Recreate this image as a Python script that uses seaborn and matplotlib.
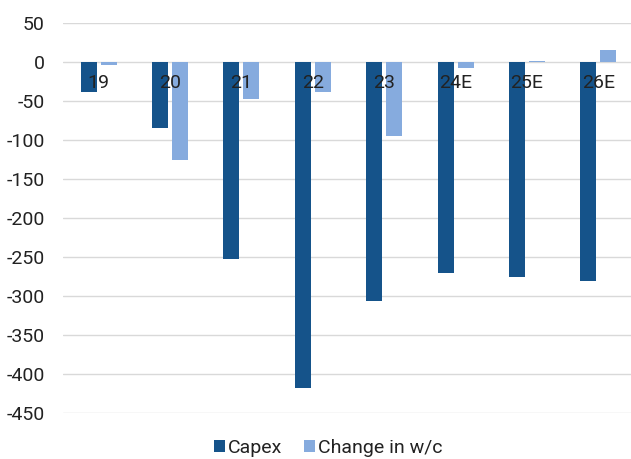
import matplotlib
matplotlib.use("Agg")
import matplotlib.pyplot as plt
import seaborn as sns
import pandas as pd

years = ["19", "20", "21", "22", "23", "24E", "25E", "26E"]
capex = [-39, -84, -252, -418, -306, -270, -276, -281]
change_wc = [-4, -125, -48, -38, -95, -8, 1, 16]
series_names = ["Capex", "Change in w/c"]
y_ticks = list(range(-450, 51, 50))

colors = ["#15538A", "#86ABDE"]

df = pd.DataFrame({
    "year": years * 2,
    "series": [series_names[0]] * len(years) + [series_names[1]] * len(years),
    "value": capex + change_wc,
})

sns.set_theme(style="white")
plt.rcParams["font.family"] = ["Roboto", "DejaVu Sans"]
text_color = "#222222"
font_size = 14

fig = plt.figure(figsize=(6.31, 4.59), dpi=100)
ax = fig.add_axes([63 / 631, 1 - 413 / 459, 571 / 631, 390 / 459])

sns.barplot(data=df, x="year", y="value", hue="series", order=years,
            hue_order=series_names, palette=colors, width=0.56, gap=0.2,
            linewidth=0, saturation=1, ax=ax, legend=True)

ax.set_ylim(-450, 50)
ax.set_xlim(-0.5, len(years) - 0.5)
ax.set_yticks(y_ticks)
ax.set_yticklabels([str(v) for v in y_ticks])
ax.yaxis.grid(True, color="#D9D9D9", linewidth=1)
ax.xaxis.grid(False)
ax.set_axisbelow(True)
# category labels sit on the zero line, drawn over the bars
ax.xaxis.set_zorder(3)

for s in ax.spines.values():
    s.set_visible(False)
ax.spines["bottom"].set_position(("data", 0))

ax.tick_params(axis="y", length=0, pad=13, labelsize=font_size, labelcolor=text_color)
ax.tick_params(axis="x", length=0, pad=8.5, labelsize=font_size, labelcolor=text_color)
ax.set_xlabel("")
ax.set_ylabel("")

handles, labels = ax.get_legend_handles_labels()
ax.get_legend().remove()
fig.legend(handles, labels, loc="center", bbox_to_anchor=(328 / 631, 1 - 448 / 459),
           ncol=2, frameon=False, fontsize=font_size, handlelength=0.58, handleheight=0.58,
           handletextpad=0.15, columnspacing=1.1, labelcolor=text_color)

fig.savefig("out.png", dpi=100)
